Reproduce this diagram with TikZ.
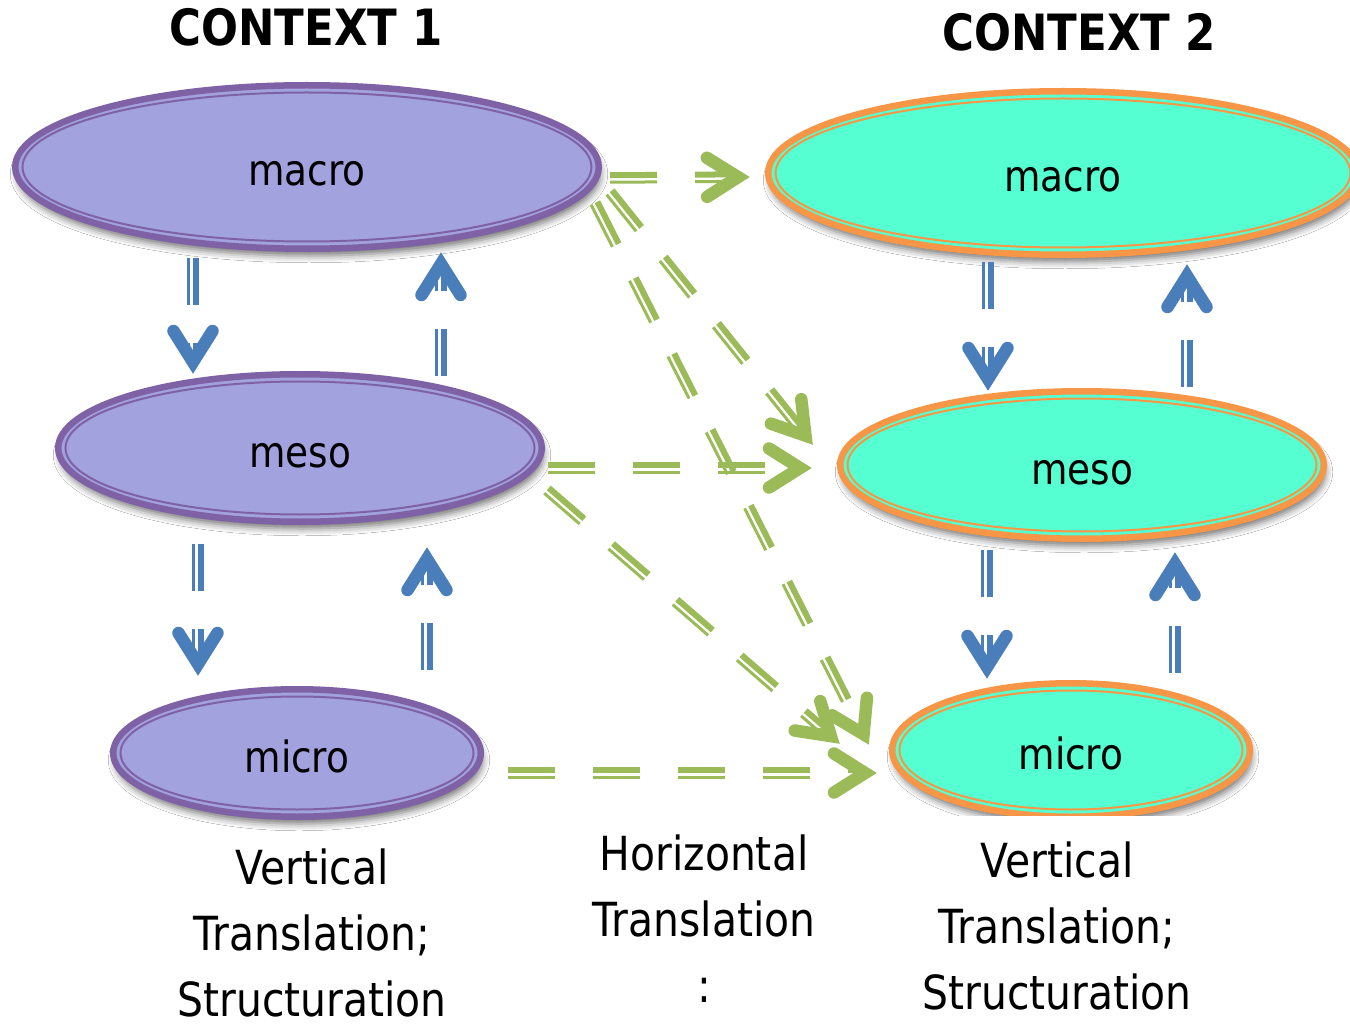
\documentclass[tikz,border=0pt]{standalone}
\usepackage{fontspec}
\setmainfont{DejaVu Sans}[FakeStretch=0.87]
\usetikzlibrary{calc,shapes.geometric,shadows.blur}

\definecolor{lvlpurple}{HTML}{7F62A6}
\definecolor{lvllav}{HTML}{A2A2DF}
\definecolor{lvlorange}{HTML}{F79646}
\definecolor{lvlaqua}{HTML}{55FFD2}
\definecolor{vblue}{HTML}{4A7EBB}
\definecolor{hgreen}{HTML}{9BBB59}

\tikzset{
  level/.style={ellipse, line width=6.5pt, inner sep=0pt,
    font=\fontsize{43}{50}\selectfont, text height=38pt, text depth=0pt,
    blur shadow={shadow xshift=2pt, shadow yshift=-7pt,
      shadow blur radius=7pt, shadow opacity=55}},
  ctxA/.style={level, draw=lvlpurple, fill=lvllav},
  ctxA inner/.style={draw=lvlpurple, line width=2pt},
  ctxB/.style={level, draw=lvlorange, fill=lvlaqua},
  ctxB inner/.style={draw=lvlorange, line width=2pt},
  title/.style={font=\bfseries\fontsize{50}{60}\selectfont, inner sep=0pt},
  caption/.style={font=\fontsize{47}{66}\selectfont, align=center, inner sep=0pt},
  vlink/.style={color=vblue},
  hlink/.style={color=hgreen},
}

% an oval level with a thick outer rim and a thin inner rim
% #1 style, #2 name, #3 x, #4 y, #5 x radius, #6 y radius, #7 text
\newcommand\levelnode[7]{%
  \node[#1, minimum width={2*(#5)-6.5}, minimum height={2*(#6)-6.5}] (#2) at (#3,#4) {#7};
  \draw[#1 inner] (#2.center) ellipse [x radius=#5-10.5, y radius=#6-10.5];}

% dashed thick-thin translation link with an open chevron head
% #1 style, #2 start, #3 end, #4 side of the thick stroke (1 left, -1 right)
\newcommand\translink[4]{%
  \path let \p1=($(#3)-(#2)$) in
    \pgfextra{\pgfmathsetmacro\tlAngle{atan2(\y1,\x1)}%
      \pgfmathsetmacro\tlLength{veclen(\x1,\y1)}%
      \xdef\tlA{\tlAngle}\xdef\tlL{\tlLength}};
  \begin{scope}[shift={(#2)}, rotate=\tlA, #1]
    \draw[line width=6pt, dash pattern=on 47pt off 38pt]
      (0pt,{(#4)*2.75pt}) -- ({\tlL pt-12pt},{(#4)*2.75pt});
    \draw[line width=3pt, dash pattern=on 47pt off 38pt]
      (0pt,{(-1)*(#4)*4.25pt}) -- ({\tlL pt-12pt},{(-1)*(#4)*4.25pt});
    \draw[line width=12.5pt, line cap=round, line join=miter]
      ({\tlL pt-43pt},19.5pt) -- ({\tlL pt-12pt},0pt) -- ({\tlL pt-43pt},-19.5pt);
  \end{scope}}

\begin{document}
\begin{tikzpicture}[x=1pt, y=-1pt]
\fill[white] (0,0) rectangle (1350,1024);
\useasboundingbox (0,0) rectangle (1350,1024);

% headings
\node[title, anchor=base] (ctx1) at (306,46) {CONTEXT 1};
\node[title, anchor=base] (ctx2) at (1079,51) {CONTEXT 2};

% levels of context 1
\levelnode{ctxA}{m1}{307}{167}{295}{85}{macro}
\levelnode{ctxA}{s1}{300}{448}{245}{77}{meso}
\levelnode{ctxA}{u1}{297}{753}{187}{67}{micro}

% levels of context 2
\levelnode{ctxB}{m2}{1063}{173}{298}{85}{macro}
\levelnode{ctxB}{s2}{1082}{465}{245}{77}{meso}
\levelnode{ctxB}{u2}{1071}{750}{182}{70}{micro}

% link ends on the level rims
\coordinate (b1s) at ([shift={(-114,6)}]m1.south);
\coordinate (b1e) at ([shift={(-107,3)}]s1.north);
\coordinate (b2s) at ([shift={(141,5)}]s1.north);
\coordinate (b2e) at ([shift={(134,0)}]m1.south);
\coordinate (b3s) at ([shift={(-102,19)}]s1.south);
\coordinate (b3e) at ([shift={(-99,-10)}]u1.north);
\coordinate (b4s) at ([shift={(130,-16)}]u1.north);
\coordinate (b4e) at ([shift={(127,22)}]s1.south);
\coordinate (b5s) at ([shift={(-75,4)}]m2.south);
\coordinate (b5e) at ([shift={(-94,3)}]s2.north);
\coordinate (b6s) at ([shift={(105,-1)}]s2.north);
\coordinate (b6e) at ([shift={(124,6)}]m2.south);
\coordinate (b7s) at ([shift={(-95,8)}]s2.south);
\coordinate (b7e) at ([shift={(-84,-1)}]u2.north);
\coordinate (b8s) at ([shift={(104,-7)}]u2.north);
\coordinate (b8e) at ([shift={(93,10)}]s2.south);

\coordinate (g1s) at ([shift={(8,11)}]m1.east);
\coordinate (g1e) at ([shift={(-15,4)}]m2.west);
\coordinate (g2s) at ([shift={(3,20)}]s1.east);
\coordinate (g2e) at ([shift={(-25,3)}]s2.west);
\coordinate (g3s) at ([shift={(24,20)}]u1.east);
\coordinate (g3e) at ([shift={(-12,23)}]u2.west);
\coordinate (g4s) at ([shift={(8,25)}]m1.east);
\coordinate (g4e) at ([shift={(-24,-20)}]s2.west);
\coordinate (g5s) at ([shift={(-7,36)}]m1.east);
\coordinate (g5e) at ([shift={(-20,-5)}]u2.west);
\coordinate (g6s) at ([shift={(2,42)}]s1.east);
\coordinate (g6e) at ([shift={(-49,-6)}]u2.west);

% vertical translation
\translink{vlink}{b1s}{b1e}{1}
\translink{vlink}{b2s}{b2e}{-1}
\translink{vlink}{b3s}{b3e}{1}
\translink{vlink}{b4s}{b4e}{-1}
\translink{vlink}{b5s}{b5e}{1}
\translink{vlink}{b6s}{b6e}{-1}
\translink{vlink}{b7s}{b7e}{1}
\translink{vlink}{b8s}{b8e}{-1}

% horizontal translation
\translink{hlink}{g1s}{g1e}{1}
\translink{hlink}{g2s}{g2e}{1}
\translink{hlink}{g3s}{g3e}{1}
\translink{hlink}{g4s}{g4e}{1}
\translink{hlink}{g5s}{g5e}{1}
\translink{hlink}{g6s}{g6e}{1}

% captions
\node[caption, anchor=north] (capA) at (312,849) {Vertical\\Translation;\\Structuration};
\node[caption, anchor=north] (capH) at (704,835) {Horizontal\\Translation\\:};
\node[caption, anchor=north, fill=white, inner xsep=6pt, inner ysep=26pt] (capB)
  at (1057,816) {Vertical\\Translation;\\Structuration};
\end{tikzpicture}
\end{document}
